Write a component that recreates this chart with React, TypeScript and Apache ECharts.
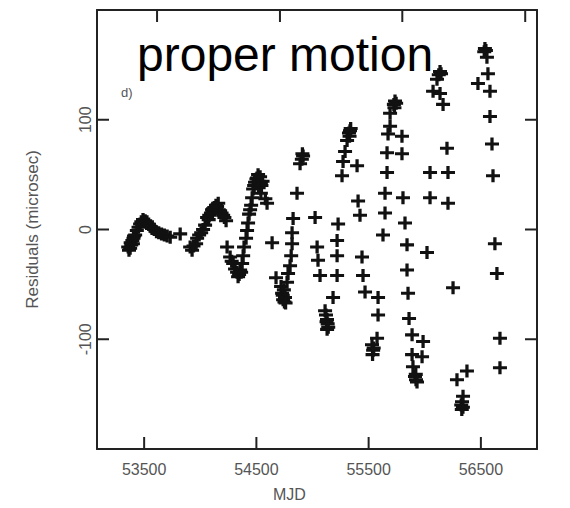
import React, { useEffect, useRef } from "react";
import * as echarts from "echarts";

// Observation seasons: [MJD, residual (microsec)]
const season1: [number, number][] = [
  [53358, -16], [53365, -19], [53375, -17], [53380, -12], [53385, -14], [53395, -10], [53400, -13],
  [53405, -8], [53410, -6], [53420, -5], [53435, -1], [53450, 2], [53464, 5], [53475, 7], [53490, 9],
  [53509, 8], [53525, 7], [53540, 5], [53553, 3], [53570, 1], [53590, 0], [53610, -2], [53630, -3],
  [53655, -4], [53680, -5], [53705, -6], [53732, -7], [53821, -4],
];
const season2: [number, number][] = [
  [53910, -16], [53927, -19], [53940, -15], [53963, -13], [53972, -8], [53990, -5], [54008, -3],
  [54025, 0], [54043, 4], [54061, 11], [54075, 9], [54080, 13], [54095, 15], [54105, 18], [54114, 19],
  [54125, 20], [54140, 22], [54150, 21], [54160, 24], [54165, 18], [54177, 17], [54190, 15],
  [54204, 13], [54215, 11], [54230, 8],
];
const season3: [number, number][] = [
  [54239, -16], [54266, -25], [54280, -29], [54293, -31], [54310, -36], [54328, -39], [54337, -43],
  [54346, -41], [54355, -37], [54364, -39], [54373, -31], [54382, -24], [54390, -16], [54408, -8],
  [54417, -1], [54426, 6], [54435, 14], [54444, 18], [54453, 22], [54462, 29], [54471, 37],
  [54480, 40], [54488, 43], [54500, 46], [54506, 47], [54515, 50], [54520, 44], [54533, 48],
  [54540, 42], [54545, 40], [54555, 44], [54520, 38], [54540, 33], [54580, 28], [54595, 24],
  [54640, -12],
];
const season4: [number, number][] = [
  [54675, -44], [54720, -52], [54729, -58], [54735, -60], [54738, -64], [54745, -55], [54750, -66],
  [54755, -62], [54760, -67], [54773, -48], [54782, -40], [54800, -33], [54810, -24], [54818, -13],
  [54818, -3], [54827, 10], [54862, 33], [54889, 60], [54905, 64], [54916, 67], [54910, 69],
];
const season5: [number, number][] = [
  [55023, 11], [55041, -16], [55049, -28], [55067, -42], [55112, -74], [55120, -78], [55125, -84],
  [55129, -82], [55130, -91], [55135, -86], [55140, -89], [55183, -62], [55219, -42], [55219, -24],
  [55219, -10], [55228, 5], [55263, 49], [55272, 62], [55290, 71], [55308, 81], [55325, 88],
  [55330, 85], [55334, 90], [55340, 92], [55397, 58], [55406, 26], [55423, 13], [55441, -25],
  [55450, -42], [55468, -57], [55530, -105], [55535, -114], [55540, -110], [55545, -108],
  [55575, -99], [55584, -78], [55584, -62],
];
const season6: [number, number][] = [
  [55628, -5], [55646, 15], [55646, 33], [55664, 52], [55664, 70], [55673, 87], [55691, 94],
  [55691, 106], [55725, 114], [55730, 111], [55735, 117], [55745, 115], [55797, 85], [55797, 69],
  [55806, 29], [55824, 6], [55842, -14], [55842, -37], [55851, -58], [55860, -81], [55887, -96],
  [55985, -102], [55887, -114], [55976, -116], [55895, -125], [55913, -134], [55920, -132],
  [55922, -137], [55931, -139],
];
const season7: [number, number][] = [
  [56020, -21], [56047, 29], [56047, 52], [56074, 126], [56109, 137], [56125, 141], [56136, 144],
  [56145, 142], [56136, 124], [56163, 114], [56198, 74], [56207, 52], [56207, 24], [56252, -53],
  [56287, -137], [56325, -160], [56330, -164], [56332, -157], [56340, -162], [56341, -152],
  [56376, -129],
];
const season8: [number, number][] = [
  [56474, 133], [56530, 162], [56536, 165], [56545, 163], [56554, 157], [56563, 142], [56581, 126],
  [56581, 103], [56599, 78], [56608, 49], [56625, -13], [56643, -40], [56670, -99], [56670, -126],
];

const xTicks = [53500, 54500, 55500, 56500];
const topTicks = [53615, 54710, 55800, 56895];
const yTicks = [-100, 0, 100];
const X_MIN = 53080;
const X_MAX = 57000;
const Y_MIN = -200;
const Y_MAX = 200;

const PLUS = "path://M4.6,0H7.4V4.6H12V7.4H7.4V12H4.6V7.4H0V4.6H4.6Z";
const FONT = "Liberation Sans, Arial, sans-serif";
const AXIS_COLOR = "#222";
const TICK_LEN = 12;

export default function App() {
  const ref = useRef<HTMLDivElement>(null);
  useEffect(() => {
    if (!ref.current) return;
    const chart = echarts.init(ref.current, undefined, { renderer: "svg" });
    const allPoints = [
      ...season1, ...season2, ...season3, ...season4,
      ...season5, ...season6, ...season7, ...season8,
    ];
    const axisLine = () => ({ show: true, onZero: false, lineStyle: { color: AXIS_COLOR, width: 2 } });
    const plain = (v: number) => String(v);

    // Inward tick marks, drawn as small rect symbols on the axes' own scales.
    const tickMarks = (data: number[][], size: number[], offset: number[]) => ({
      type: "scatter",
      xAxisIndex: 0,
      yAxisIndex: 0,
      silent: true,
      clip: false,
      z: 4,
      data,
      symbol: "rect",
      symbolSize: size,
      symbolOffset: offset,
      itemStyle: { color: AXIS_COLOR, opacity: 1 },
    });

    chart.setOption({
      animation: false,
      backgroundColor: "#fff",
      grid: { left: 97, top: 10, width: 440, height: 439, containLabel: false },
      xAxis: [
        {
          type: "value", min: X_MIN, max: X_MAX, position: "bottom",
          axisLine: axisLine(),
          axisTick: { show: false },
          axisLabel: { customValues: xTicks, formatter: plain, fontSize: 16, color: "#555", margin: 12, fontFamily: FONT },
          splitLine: { show: false },
        },
        {
          type: "value", min: X_MIN, max: X_MAX, position: "top",
          axisLine: axisLine(),
          axisTick: { show: false },
          axisLabel: { show: false },
          splitLine: { show: false },
        },
      ],
      yAxis: [
        {
          type: "value", min: Y_MIN, max: Y_MAX, interval: 100, position: "left",
          name: "Residuals (microsec)", nameLocation: "middle", nameGap: 56, nameRotate: 90,
          nameTextStyle: { fontSize: 17, color: "#555", fontFamily: FONT },
          axisLine: axisLine(),
          axisTick: { show: false },
          axisLabel: {
            customValues: yTicks, formatter: plain, rotate: 90,
            fontSize: 16, color: "#555", margin: 4, fontFamily: FONT,
          },
          splitLine: { show: false },
        },
        {
          type: "value", min: Y_MIN, max: Y_MAX, interval: 100, position: "right",
          axisLine: axisLine(),
          axisTick: { show: false },
          axisLabel: { show: false },
          splitLine: { show: false },
        },
      ],
      graphic: [
        {
          type: "text", left: 137, top: 30,
          style: { text: "proper motion", fontSize: 48, fontFamily: FONT, fill: "#000" },
        },
        {
          type: "text", left: 121, top: 86,
          style: { text: "d)", fontSize: 13, fontFamily: FONT, fill: "#555" },
        },
        {
          type: "text", left: 273, top: 486,
          style: { text: "MJD", fontSize: 16, fontFamily: FONT, fill: "#555" },
        },
      ],
      series: [
        {
          type: "scatter",
          xAxisIndex: 0, yAxisIndex: 0,
          data: allPoints,
          symbol: PLUS,
          symbolSize: [14, 13],
          itemStyle: { color: "#111", opacity: 1 },
          silent: true,
          z: 3,
        },
        tickMarks(xTicks.map((v) => [v, Y_MIN]), [2, TICK_LEN], [0, -TICK_LEN / 2]),
        tickMarks(topTicks.map((v) => [v, Y_MAX]), [2, TICK_LEN], [0, TICK_LEN / 2]),
        tickMarks(yTicks.map((v) => [X_MIN, v]), [TICK_LEN, 2], [TICK_LEN / 2, 0]),
        tickMarks(yTicks.map((v) => [X_MAX, v]), [TICK_LEN, 2], [-TICK_LEN / 2, 0]),
      ],
    });

    return () => chart.dispose();
  }, []);
  return (
    <div
      ref={ref}
      style={{ position: "fixed", left: 0, top: 0, width: 570, height: 508 }}
    />
  );
}
